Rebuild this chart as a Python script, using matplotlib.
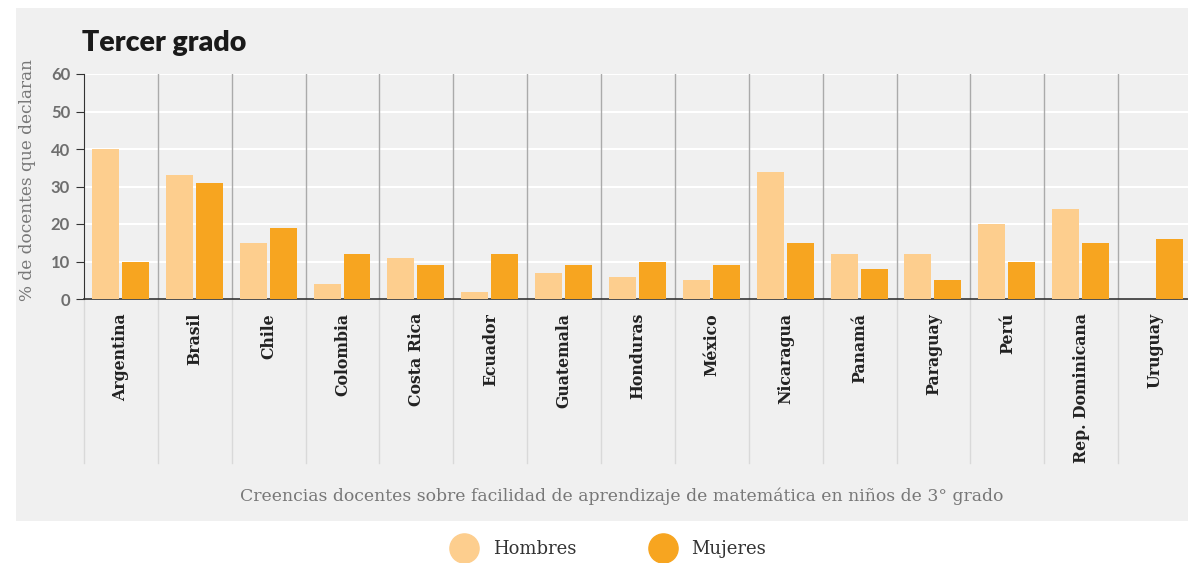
import numpy as np
import matplotlib.pyplot as plt
from matplotlib.lines import Line2D
from matplotlib.patches import Rectangle

paises = ['Argentina', 'Brasil', 'Chile', 'Colombia', 'Costa Rica', 'Ecuador', 'Guatemala',
          'Honduras', 'México', 'Nicaragua', 'Panamá', 'Paraguay', 'Perú', 'Rep. Dominicana', 'Uruguay']
hombres = [40, 33, 15, 4, 11, 2, 7, 6, 5, 34, 12, 12, 20, 24, 0]
mujeres = [10, 31, 19, 12, 9, 12, 9, 10, 9, 15, 8, 5, 10, 15, 16]

c_h = '#fdce8e'
c_m = '#f7a520'
bg = '#f0f0f0'

fig = plt.figure(figsize=(11.88, 5.63), dpi=100)
fig.patches.append(Rectangle((16/1188, 1-521/563), 1, (521-8)/563, transform=fig.transFigure,
                             facecolor=bg, edgecolor='none', zorder=-10))

ax = fig.add_axes([84/1188, 1-299/563, (1192-84)/1188, 225/563])
ax.set_zorder(2)
ax.set_facecolor('none')

x = np.arange(len(paises))
w = 0.365
ax.bar(x - 0.21, hombres, w, color=c_h, zorder=3)
ax.bar(x + 0.196, mujeres, w, color=c_m, zorder=3)

ax.set_xlim(-0.5, len(paises) - 0.5)
ax.set_ylim(0, 60)
ax.set_yticks(range(0, 61, 10))
ax.yaxis.grid(True, color='white', linewidth=1.5, zorder=1)
ax.set_axisbelow(True)

# separadores verticales
for b in np.arange(1, len(paises)) - 0.5:
    ax.axvline(b, ymin=0, ymax=1, color='#aaaaaa', linewidth=1, zorder=2)
for b in np.arange(len(paises)) - 0.5:
    ax.axvline(b, ymin=-164/225, ymax=0, color='#d9d9d9', linewidth=1, zorder=2, clip_on=False)

for s in ['top', 'right']:
    ax.spines[s].set_visible(False)
ax.spines['left'].set_color('#333333')
ax.spines['bottom'].set_color('#333333')
ax.spines['bottom'].set_linewidth(1.2)

ax.tick_params(axis='y', length=6, color='#333333', labelcolor='#6e6e6e', labelsize=12, pad=4)
for t in ax.get_yticklabels():
    t.set_fontfamily('Lato')
    t.set_fontweight('bold')
ax.tick_params(axis='x', length=0, pad=10)
ax.set_xticks(x)
ax.set_xticklabels(paises, rotation=90, va='top', ha='center', fontfamily='DejaVu Serif',
                   fontweight='bold', fontsize=11.3, color='#222222')

ax.set_ylabel('% de docentes que declaran', fontfamily='DejaVu Serif', fontsize=12.2,
              color='#777777')
ax.yaxis.set_label_coords(-0.0433, 0.529)

fig.text(622/1188, 1-496/563, 'Creencias docentes sobre facilidad de aprendizaje de matemática en niños de 3° grado',
         ha='center', va='center', fontfamily='DejaVu Serif', fontsize=12.4, color='#777777')

fig.text(82/1188, 1-43/563, 'Tercer grado', ha='left', va='center', fontfamily='Lato',
         fontweight='heavy', fontsize=20.5, color='#1a1a1a')

handles = [Line2D([], [], marker='o', linestyle='none', markersize=21, color=c_h),
           Line2D([], [], marker='o', linestyle='none', markersize=21, color=c_m)]
leg = fig.legend(handles, ['Hombres', 'Mujeres'], loc='center', bbox_to_anchor=(606/1188, 1-549/563),
                 ncol=2, frameon=False, columnspacing=3.8, handletextpad=0.6,
                 prop={'family': 'DejaVu Serif', 'size': 13})
for t in leg.get_texts():
    t.set_color('#333333')

fig.savefig('out.png', dpi=100)
